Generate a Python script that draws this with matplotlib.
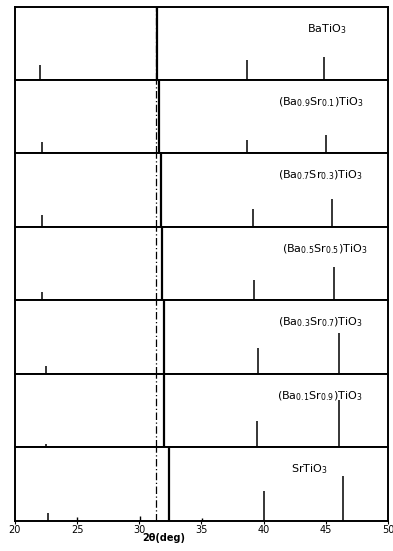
import numpy as np
import matplotlib
matplotlib.use("Agg")
import matplotlib.pyplot as plt

# Stick patterns of (Ba,Sr)TiO3 from BaTiO3 (top) to SrTiO3 (bottom)
labels = ["BaTiO$_3$",
          "(Ba$_{0.9}$Sr$_{0.1}$)TiO$_3$",
          "(Ba$_{0.7}$Sr$_{0.3}$)TiO$_3$",
          "(Ba$_{0.5}$Sr$_{0.5}$)TiO$_3$",
          "(Ba$_{0.3}$Sr$_{0.7}$)TiO$_3$",
          "(Ba$_{0.1}$Sr$_{0.9}$)TiO$_3$",
          "SrTiO$_3$"]

main_peak = [31.45, 31.55, 31.75, 31.85, 31.99, 32.02, 32.39]   # (110), off scale
peak_100 = [22.0, 22.15, 22.17, 22.2, 22.47, 22.47, 22.68]
h_100 = [0.20, 0.155, 0.16, 0.12, 0.11, 0.05, 0.10]
peak_111 = [38.64, 38.66, 39.17, 39.23, 39.52, 39.47, 40.0]
h_111 = [0.27, 0.18, 0.24, 0.28, 0.35, 0.36, 0.41]
peak_200 = [44.86, 45.0, 45.47, 45.66, 46.04, 46.07, 46.41]
h_200 = [0.31, 0.245, 0.38, 0.46, 0.56, 0.64, 0.61]

# minor lines seen only in the SrTiO3 pattern
sto_minor = [24.96, 30.06, 35.02]
sto_minor_h = [0.05, 0.06, 0.03]

ref_line = 31.33
label_x = [43.5, 41.2, 41.2, 41.5, 41.2, 41.1, 42.2]

fig = plt.figure(figsize=(3.93, 5.51), dpi=100)
gs = fig.add_gridspec(len(labels), 1, left=0.038, right=0.987,
                      top=0.988, bottom=0.055, hspace=0)
axes = [fig.add_subplot(gs[i]) for i in range(len(labels))]

for i, ax in enumerate(axes):
    ax.set_xlim(20, 50)
    ax.set_ylim(0, 1)
    ax.vlines(main_peak[i], 0, 1.2, color="black", lw=1.6)
    ax.vlines([peak_100[i], peak_111[i], peak_200[i]], 0,
              [h_100[i], h_111[i], h_200[i]], color="black", lw=1.1)
    if i == len(labels) - 1:
        ax.vlines(sto_minor, 0, sto_minor_h, color="black", lw=1.0)
    ax.axvline(ref_line, color="black", lw=0.9, ls=(0, (6, 2, 1, 2)))
    ax.text(label_x[i], 0.7, labels[i], fontsize=8, va="center", ha="left")
    for s in ax.spines.values():
        s.set_linewidth(1.4)
    ax.set_yticks([])
    if i < len(labels) - 1:
        ax.set_xticks([])

ax = axes[-1]
ax.set_xticks(np.arange(20, 51, 5))
ax.tick_params(axis="x", labelsize=7, length=2, pad=1)
ax.set_xlabel("2θ(deg)", fontsize=7, labelpad=0, fontweight="bold")
ax.xaxis.set_label_coords(0.4, -0.17)

fig.savefig("out.png", dpi=100)
